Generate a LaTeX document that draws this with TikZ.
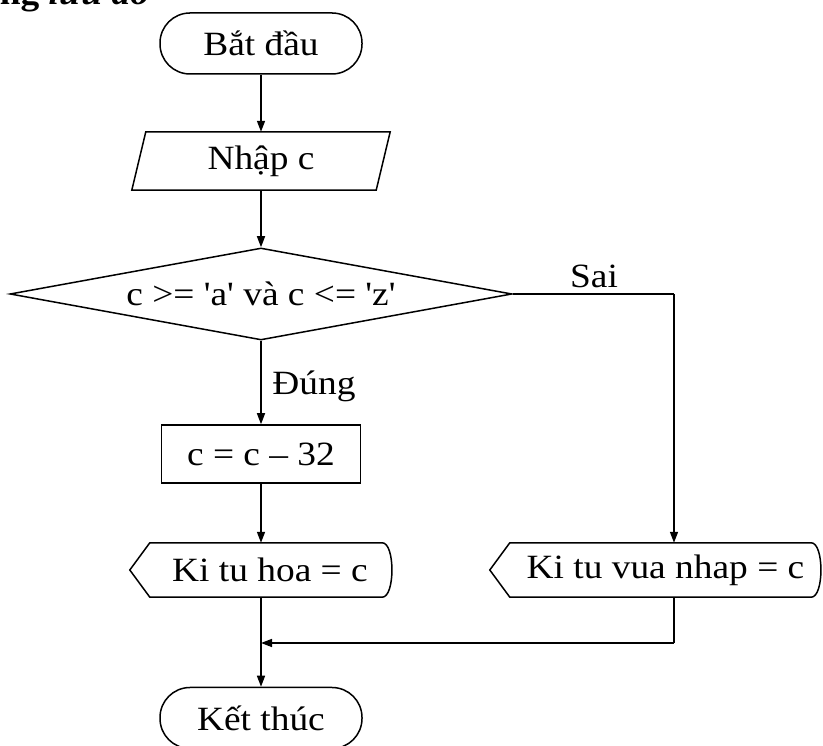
\documentclass[tikz,border=0pt]{standalone}
\usepackage{fontspec}
\setmainfont{Liberation Serif}[FakeStretch=1.1,Ligatures=TeXOff]
\usetikzlibrary{shapes.geometric,arrows.meta}

\begin{document}
\begin{tikzpicture}[x=1pt,y=1pt,
  every node/.style={font=\fontsize{34}{40}\selectfont},
  line/.style={line width=1.5pt},
  arr/.style={line width=1.5pt,-{Triangle[length=11pt,width=8pt]}},
  term/.style={draw,line width=1.5pt,rounded corners=30pt,minimum width=202pt,minimum height=61pt,inner sep=0pt},
  proc/.style={draw,line width=1.5pt,minimum width=199pt,minimum height=58pt,inner sep=0pt},
  plain/.style={inner sep=0pt},
  dec/.style={draw,diamond,line width=1.5pt,aspect=5.46,minimum width=502pt,minimum height=92pt,inner sep=0pt},
]
\useasboundingbox (0,0) rectangle (823,746);
\clip (0,0) rectangle (823,746);
\fill[white] (0,0) rectangle (823,746);

\node[plain,anchor=base west,font=\fontsize{34}{40}\selectfont\bfseries] (title) at (-44,741) {Bằng \textit{lưu đồ}};

\node[term] (start) at (261,702.5) {Bắt đầu};
\node[plain,minimum width=244pt,minimum height=58pt] (in) at (261,585) {Nhập c};
\draw[line] ([xshift=-7pt]in.south west) -- ([xshift=-7pt]in.south east) -- ([xshift=7pt]in.north east) -- ([xshift=7pt]in.north west) -- cycle;

\node[dec] (d) at (261,452) {c >= 'a' và c <= 'z'};
\node[proc] (calc) at (261,292) {c = c – 32};

\node[plain,minimum width=262pt,minimum height=54pt] (hoa) at (261,176) {\hspace{18pt}Ki tu hoa = c};
\draw[line] (hoa.west) -- ([xshift=20pt]hoa.north west) -- ([xshift=-10pt]hoa.north east) .. controls ([xshift=3pt]hoa.north east) and ([xshift=3pt]hoa.south east) .. ([xshift=-10pt]hoa.south east) -- ([xshift=20pt]hoa.south west) -- cycle;

\node[plain,minimum width=331pt,minimum height=54pt] (rd) at (655.5,176) {\hspace{20pt}Ki tu vua nhap = c};
\draw[line] (rd.west) -- ([xshift=20pt]rd.north west) -- ([xshift=-10pt]rd.north east) .. controls ([xshift=3pt]rd.north east) and ([xshift=3pt]rd.south east) .. ([xshift=-10pt]rd.south east) -- ([xshift=20pt]rd.south west) -- cycle;

\node[term] (end) at (261,28) {Kết thúc};

\node[plain] (sai) at (594,470) {Sai};
\node[plain] (dung) at (314,360) {Đúng};

\coordinate (c1) at (674,452);
\coordinate (m) at (674,103);

\draw[arr] (start) -- (in);
\draw[arr] (in) -- (d);
\draw[arr] (d) -- (calc);
\draw[arr] (calc) -- (hoa);
\draw[line] (d.east) -- (c1);
\draw[arr] (c1) -- (c1 |- rd.north);
\draw[arr] (hoa) -- (end);
\draw[line] (c1 |- rd.south) -- (m);
\draw[arr] (m) -- (m -| end.north);
\end{tikzpicture}
\end{document}
